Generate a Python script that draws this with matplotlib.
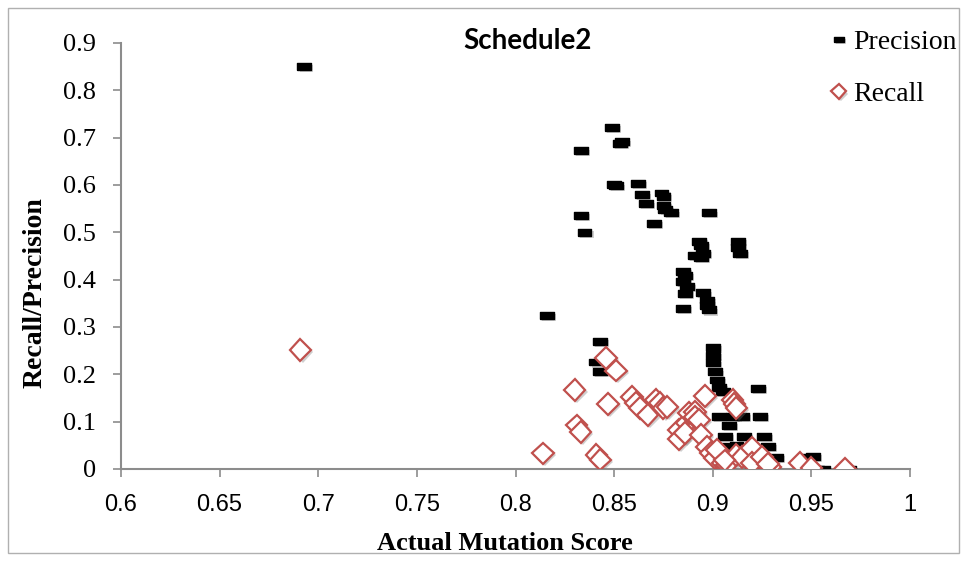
import matplotlib.pyplot as plt
import matplotlib.patheffects as pe
from matplotlib.patches import Rectangle

# Precision (black dashes)
prec_x = [0.693, 0.833, 0.849, 0.854, 0.853, 0.850, 0.851, 0.862, 0.864, 0.866,
          0.874, 0.875, 0.875, 0.876, 0.879, 0.870, 0.833, 0.835, 0.898, 0.893,
          0.894, 0.891, 0.894, 0.895, 0.913, 0.913, 0.914, 0.885, 0.886, 0.885,
          0.887, 0.886, 0.885, 0.895, 0.897, 0.897, 0.898, 0.816, 0.843, 0.841,
          0.843, 0.900, 0.900, 0.900, 0.901, 0.902, 0.903, 0.905, 0.923, 0.903,
          0.910, 0.915, 0.924, 0.908, 0.906, 0.916, 0.926, 0.908, 0.928, 0.932,
          0.948, 0.951, 0.953, 0.956, 0.969, 0.905, 0.910, 0.920, 0.930, 0.912]
prec_y = [0.850, 0.672, 0.721, 0.691, 0.688, 0.602, 0.598, 0.603, 0.579, 0.560,
          0.583, 0.575, 0.556, 0.548, 0.541, 0.518, 0.535, 0.499, 0.541, 0.480,
          0.473, 0.452, 0.446, 0.456, 0.480, 0.467, 0.455, 0.418, 0.408, 0.396,
          0.385, 0.370, 0.340, 0.372, 0.357, 0.345, 0.336, 0.324, 0.270, 0.226,
          0.206, 0.256, 0.240, 0.224, 0.205, 0.188, 0.172, 0.163, 0.171, 0.111,
          0.111, 0.111, 0.111, 0.092, 0.069, 0.069, 0.069, 0.048, 0.048, 0.025,
          0.025, 0.027, 0.000, 0.000, 0.000, 0.000, 0.025, 0.010, 0.000, 0.050]

# Recall (red diamonds)
rec_x = [0.691, 0.814, 0.830, 0.831, 0.833, 0.841, 0.843, 0.847, 0.846, 0.851,
         0.859, 0.861, 0.863, 0.867, 0.871, 0.873, 0.875, 0.877, 0.883, 0.883,
         0.887, 0.888, 0.891, 0.891, 0.893, 0.896, 0.910, 0.911, 0.912, 0.886,
         0.894, 0.897, 0.899, 0.901, 0.905, 0.907, 0.912, 0.915, 0.920, 0.920,
         0.925, 0.929, 0.928, 0.944, 0.950, 0.967, 0.902, 0.906]
rec_y = [0.252, 0.033, 0.167, 0.092, 0.078, 0.030, 0.020, 0.137, 0.235, 0.208,
         0.152, 0.140, 0.129, 0.114, 0.146, 0.140, 0.129, 0.131, 0.082, 0.063,
         0.097, 0.118, 0.120, 0.110, 0.104, 0.154, 0.146, 0.137, 0.129, 0.076,
         0.072, 0.047, 0.034, 0.023, 0.013, 0.008, 0.030, 0.025, 0.044, 0.013,
         0.025, 0.004, 0.010, 0.013, 0.002, 0.000, 0.040, 0.018]

x_ticks = [0.6, 0.65, 0.7, 0.75, 0.8, 0.85, 0.9, 0.95, 1.0]
x_labels = ["0.6", "0.65", "0.7", "0.75", "0.8", "0.85", "0.9", "0.95", "1"]
y_ticks = [0, 0.1, 0.2, 0.3, 0.4, 0.5, 0.6, 0.7, 0.8, 0.9]
y_labels = ["0", "0.1", "0.2", "0.3", "0.4", "0.5", "0.6", "0.7", "0.8", "0.9"]

red = "#C0504D"
grey = "#8C8C8C"
dash = [(-1, -0.5), (1, -0.5), (1, 0.5), (-1, 0.5), (-1, -0.5)]
shadow = [pe.SimplePatchShadow(offset=(1.5, -1.5), shadow_rgbFace="#777777", alpha=0.35), pe.Normal()]

fig = plt.figure(figsize=(9.67, 5.61), dpi=100)
ax = fig.add_axes([0.1251, 0.164, 0.816, 0.7594])

ax.plot(prec_x, prec_y, linestyle="none", marker=dash, markersize=10,
        color="black", label="Precision", path_effects=shadow)
ax.plot(rec_x, rec_y, linestyle="none", marker="D", markersize=11,
        markerfacecolor="white", markeredgecolor=red, markeredgewidth=1.6,
        label="Recall", path_effects=shadow)

ax.set_xlim(0.6, 1.0)
ax.set_ylim(0, 0.9)
ax.set_xticks(x_ticks)
ax.set_xticklabels(x_labels, family="Liberation Sans", fontsize=17)
ax.set_yticks(y_ticks)
ax.set_yticklabels(y_labels, family="Liberation Serif", fontsize=19)
ax.tick_params(direction="out", length=6, width=1.2, color=grey)
ax.tick_params(axis="x", pad=12)
ax.tick_params(axis="y", pad=12)

for side in ["top", "right"]:
    ax.spines[side].set_visible(False)
for side in ["left", "bottom"]:
    ax.spines[side].set_color(grey)
    ax.spines[side].set_linewidth(1.5)
    ax.spines[side].set_zorder(0)

ax.set_xlabel("Actual Mutation Score", family="Liberation Serif", fontweight="bold",
              fontsize=19, va="center")
ax.xaxis.set_label_coords(0.487, -0.174)
ax.set_ylabel("Recall/Precision", family="Liberation Serif", fontweight="bold",
              fontsize=20, va="center")
ax.yaxis.set_label_coords(-0.109, 0.415)

fig.text(527 / 967, 1 - 41 / 561, "Schedule2", family="Lato", fontweight="bold",
         fontsize=20, ha="center", va="center")

leg = fig.legend(loc="upper left", bbox_to_anchor=(818 / 967, 1 - 16 / 561),
                 frameon=False, markerscale=0.7, handlelength=0.5, handletextpad=0.25,
                 labelspacing=0.95, borderpad=0, prop={"family": "Liberation Serif", "size": 20})

fig.patches.append(Rectangle((8 / 967, 8 / 561), 951 / 967, 545 / 561, transform=fig.transFigure,
                             fill=False, edgecolor="#B0B0B0", linewidth=1))

plt.savefig("out.png", dpi=100)
